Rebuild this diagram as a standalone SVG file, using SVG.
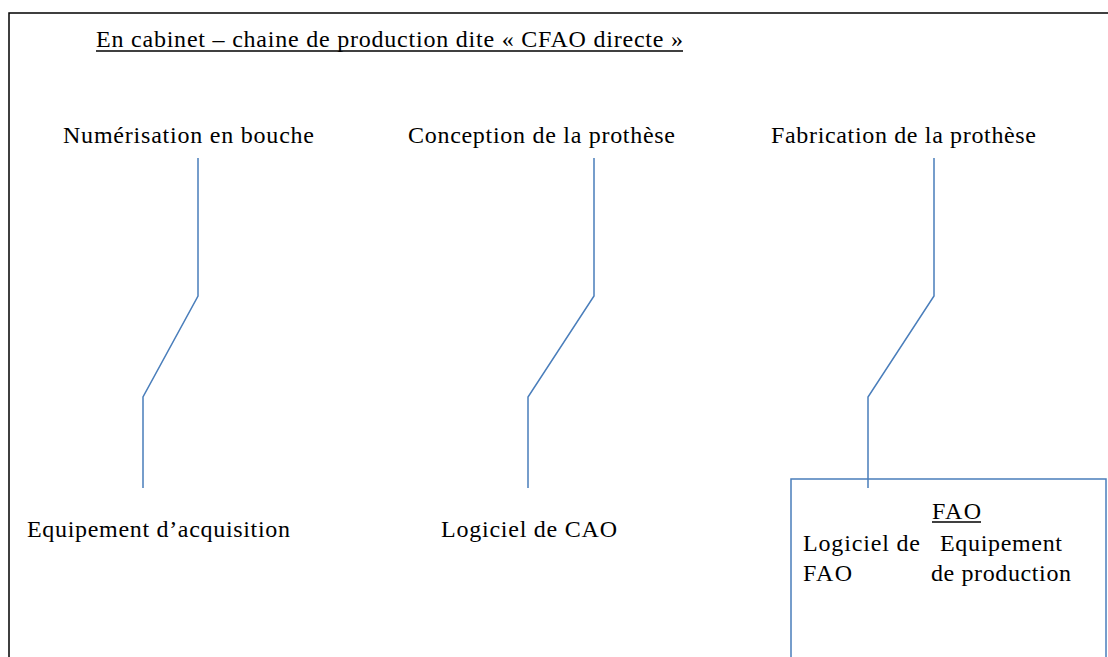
<svg xmlns="http://www.w3.org/2000/svg" width="1108" height="657" viewBox="0 0 1108 657">
<style>
text{font-family:"Liberation Serif","Times New Roman",serif;font-size:24px;fill:#000}
.c{fill:none;stroke:#4a7ebb;stroke-width:1.5}
.u{stroke:#000;stroke-width:1.3}
</style>
<rect x="0" y="0" width="1108" height="657" fill="#fff"/>
<rect x="9" y="13" width="1120" height="660" fill="none" stroke="#000" stroke-width="1.5"/>
<g id="title">
<text x="96" y="47" textLength="587" lengthAdjust="spacing">En cabinet – chaine de production dite « CFAO directe »</text>
<line class="u" x1="96" y1="51" x2="683" y2="51"/>
</g>
<g id="connectors">
<polyline class="c" points="198,158 198,296 143,397 143,488"/>
<polyline class="c" points="594,158 594,296 528,397 528,488"/>
<polyline class="c" points="934,158 934,296 868,397 868,488"/>
</g>
<g id="n1"><text x="63" y="143" textLength="251" lengthAdjust="spacing">Numérisation en bouche</text></g>
<g id="n2"><text x="408" y="143" textLength="267" lengthAdjust="spacing">Conception de la prothèse</text></g>
<g id="n3"><text x="771" y="143" textLength="265" lengthAdjust="spacing">Fabrication de la prothèse</text></g>
<g id="n4"><text x="27" y="537" textLength="263" lengthAdjust="spacing">Equipement d’acquisition</text></g>
<g id="n5"><text x="441" y="537" textLength="176" lengthAdjust="spacing">Logiciel de CAO</text></g>
<g id="n6">
<rect class="c" x="791" y="479" width="315" height="200"/>
<text x="932" y="519" textLength="49" lengthAdjust="spacing">FAO</text>
<line class="u" x1="932" y1="522" x2="981" y2="522"/>
<text x="803" y="551" textLength="117" lengthAdjust="spacing">Logiciel de</text>
<text x="940" y="551" textLength="122" lengthAdjust="spacing">Equipement</text>
<text x="803" y="581" textLength="49" lengthAdjust="spacing">FAO</text>
<text x="931" y="581" textLength="140" lengthAdjust="spacing">de production</text>
</g>
</svg>
